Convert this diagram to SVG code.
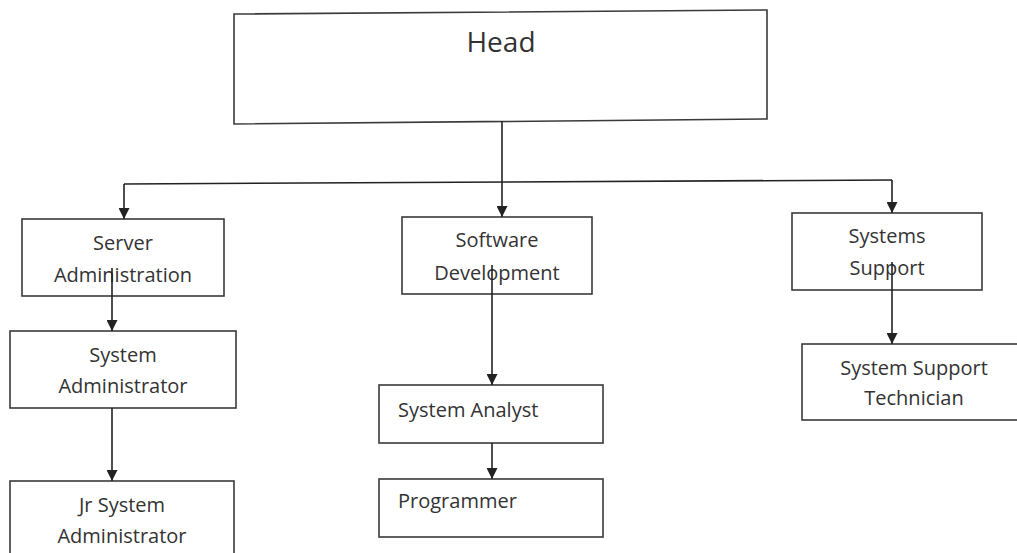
<svg xmlns="http://www.w3.org/2000/svg" width="1017" height="553" viewBox="0 0 1017 553">
<defs>
<marker id="arr" viewBox="0 0 10 10" refX="10" refY="5" markerWidth="11" markerHeight="11" markerUnits="userSpaceOnUse" orient="auto">
<path d="M0,0 L10,5 L0,10 z" fill="#222"/>
</marker>
<style>
.box{fill:#fff;stroke:#3a3a3a;stroke-width:1.6}
.t{font-family:"Open Sans","Noto Sans",sans-serif;font-size:20px;fill:#333}
.c{text-anchor:middle}
.edge{fill:none;stroke:#222;stroke-width:1.6}
</style>
</defs>
<rect width="1017" height="553" fill="#fff"/>
<g id="head"><path class="box" d="M234,14 L767,10 L767,119 L234,124 Z"/><text class="t c" x="501" y="52" style="font-size:28px">Head</text></g>
<g id="server-admin"><rect class="box" x="22" y="219" width="202" height="77"/><text class="t c" x="123" y="250">Server</text><text class="t c" x="123" y="282">Administration</text></g>
<g id="system-admin"><rect class="box" x="10" y="331" width="226" height="77"/><text class="t c" x="123" y="362">System</text><text class="t c" x="123" y="393">Administrator</text></g>
<g id="jr-system-admin"><rect class="box" x="10" y="481" width="224" height="80"/><text class="t c" x="122" y="512">Jr System</text><text class="t c" x="122" y="543">Administrator</text></g>
<g id="software-dev"><rect class="box" x="402" y="217" width="190" height="77"/><text class="t c" x="497" y="247">Software</text><text class="t c" x="497" y="280">Development</text></g>
<g id="system-analyst"><rect class="box" x="379" y="385" width="224" height="58"/><text class="t" x="398" y="417">System Analyst</text></g>
<g id="programmer"><rect class="box" x="379" y="479" width="224" height="58"/><text class="t" x="398" y="508">Programmer</text></g>
<g id="systems-support"><rect class="box" x="792" y="213" width="190" height="77"/><text class="t c" x="887" y="243">Systems</text><text class="t c" x="887" y="275">Support</text></g>
<g id="support-tech"><rect class="box" x="802" y="344" width="222" height="76"/><text class="t c" x="914" y="375">System Support</text><text class="t c" x="914" y="405">Technician</text></g>
<g id="connectors">
<path class="edge" d="M502,121 V217" marker-end="url(#arr)"/>
<path class="edge" d="M124,184 L892,180"/>
<path class="edge" d="M124,184 V219" marker-end="url(#arr)"/>
<path class="edge" d="M892,180 V213" marker-end="url(#arr)"/>
<path class="edge" d="M112,268 V331" marker-end="url(#arr)"/>
<path class="edge" d="M112,408 V481" marker-end="url(#arr)"/>
<path class="edge" d="M492,265 V385" marker-end="url(#arr)"/>
<path class="edge" d="M492,443 V479" marker-end="url(#arr)"/>
<path class="edge" d="M892,262 V344" marker-end="url(#arr)"/>
</g>
</svg>
